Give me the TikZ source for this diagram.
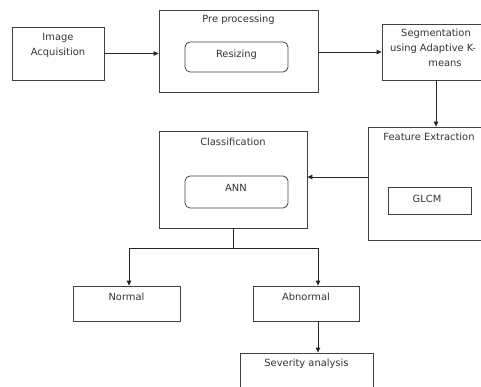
\documentclass[tikz,border=0pt]{standalone}
\usepackage{fontspec}
\setmainfont{DejaVu Sans}
\usetikzlibrary{arrows.meta}
\begin{document}
\begin{tikzpicture}[x=1pt,y=-1pt,
 box/.style={draw=black!75, line width=0.8pt, inner sep=0pt},
 rbox/.style={box, rounded corners=5pt},
 lbl/.style={inner sep=0pt, font=\fontsize{9.9}{15}\selectfont, text=black!80, align=center},
 conn/.style={draw=black!85, line width=0.8pt},
 arr/.style={conn, -{Triangle[length=5pt,width=4.5pt]}}]
\useasboundingbox (0,0) rectangle (481,387);
\clip (0,0) rectangle (481,387);
% boxes
\node[box, minimum width=92pt, minimum height=53pt] (img) at (58,53.5) {};
\node[box, minimum width=159pt, minimum height=82pt] (pre) at (238.5,51) {};
\node[rbox, minimum width=103pt, minimum height=30pt] (res) at (236.5,57) {};
\node[box, minimum width=108pt, minimum height=56pt] (seg) at (436,52) {};
\node[box, minimum width=122pt, minimum height=113pt] (feat) at (429,183.5) {};
\node[box, minimum width=83pt, minimum height=27pt] (glcm) at (429.5,200.5) {};
\node[box, minimum width=148pt, minimum height=97pt] (cls) at (233,179.5) {};
\node[rbox, minimum width=103pt, minimum height=32pt] (ann) at (236.5,192) {};
\node[box, minimum width=107pt, minimum height=35pt] (normal) at (126.5,303.5) {};
\node[box, minimum width=106pt, minimum height=35pt] (abn) at (306,303.5) {};
\node[box, minimum width=133pt, minimum height=40pt] (sev) at (306.5,373) {};
% labels
\node[lbl] (imgt) at (58,45) {Image\\Acquisition};
\node[lbl] (pret) at (238.5,20) {Pre processing};
\node[lbl] (rest) at (236.5,55) {Resizing};
\node[lbl] (segt) at (433,48) {\hspace*{6pt}Segmentation\\using Adaptive K-\\\hspace*{24pt}means};
\node[lbl] (featt) at (429,137) {Feature Extraction};
\node[lbl] (glcmt) at (427,199) {GLCM};
\node[lbl] (clst) at (233,142) {Classification};
\node[lbl] (annt) at (236,188) {ANN};
\node[lbl] (normt) at (126.5,297) {Normal};
\node[lbl] (abnt) at (306,297) {Abnormal};
\node[lbl] (sevt) at (306.5,364) {Severity analysis};
% connectors
\draw[arr] (img.east) -- (img.east -| pre.west);
\draw[arr] (pre.east |- seg.west) -- (seg.west);
\draw[arr] (seg.south) -- (seg.south |- feat.north);
\coordinate (fx) at ([yshift=6.5pt]feat.west);
\draw[arr] (fx) -- (fx -| cls.east);
\coordinate (jl) at (129,248);
\coordinate (jr) at (318,248);
\draw[conn] (cls.south) -- (cls.south |- jl);
\draw[conn] (jl) -- (jr);
\draw[arr] (jl) -- (jl |- normal.north);
\draw[arr] (jr) -- (jr |- abn.north);
\draw[arr] (jr |- abn.south) -- (jr |- sev.north);
\end{tikzpicture}
\end{document}
